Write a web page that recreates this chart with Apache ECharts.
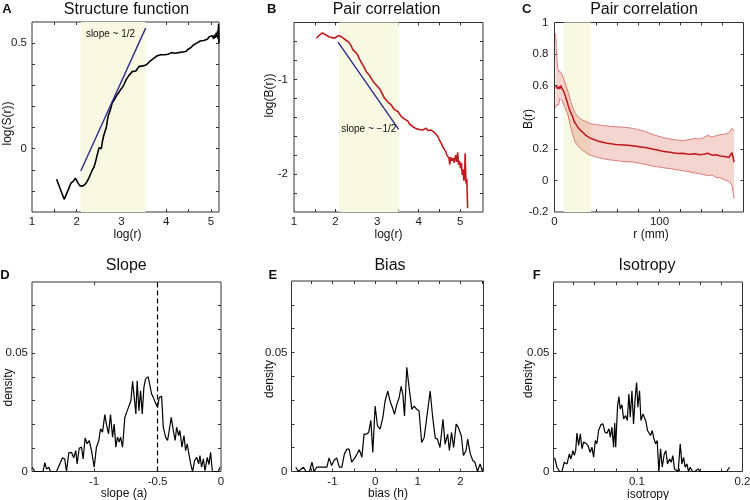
<!DOCTYPE html>
<html><head><meta charset="utf-8">
<script src="https://cdn.jsdelivr.net/npm/echarts@6/dist/echarts.min.js"></script>
<style>html,body{margin:0;padding:0;background:#fff}#c{width:750px;height:500px}</style>
</head><body><div id="c"></div>
<script>
// ---------- Panel A: structure function ----------
const aX = [
1.55,1.63,1.72,1.8,1.87,1.92,1.97,2.02,2.07,2.12,
2.17,2.22,2.27,2.31,2.35,2.38,2.41,2.44,2.47,2.5,
2.53,2.55,2.57,2.6,2.63,2.66,2.69,2.71,2.73,2.76,
2.79,2.82,2.86,2.9,2.94,2.98,3.02,3.06,3.1,3.13,
3.16,3.2,3.24,3.28,3.32,3.36,3.4,3.44,3.48,3.52,
3.56,3.6,3.64,3.68,3.72,3.76,3.8,3.84,3.88,3.92,
3.96,4.0,4.04,4.08,4.12,4.16,4.2,4.24,4.28,4.32,
4.36,4.4,4.44,4.48,4.52,4.56,4.6,4.64,4.68,4.72,
4.76,4.8,4.84,4.88,4.92,4.96,5.0,5.03,5.06,5.08,
5.1,5.12,5.14,5.15,5.16,5.17,5.18];
const aY = [
-0.145,-0.19,-0.24,-0.2,-0.163,-0.155,-0.14,-0.16,-0.175,-0.178,
-0.172,-0.16,-0.14,-0.12,-0.1,-0.09,-0.07,-0.045,-0.02,0.005,
0.01,0.0,0.03,0.06,0.08,0.1,0.14,0.16,0.17,0.19,
0.215,0.225,0.24,0.255,0.265,0.28,0.29,0.305,0.325,0.335,
0.345,0.35,0.365,0.37,0.368,0.38,0.39,0.385,0.392,0.4,
0.398,0.405,0.415,0.42,0.428,0.432,0.44,0.438,0.445,0.448,
0.445,0.452,0.447,0.45,0.455,0.448,0.452,0.449,0.455,0.452,
0.458,0.463,0.46,0.47,0.475,0.48,0.49,0.495,0.5,0.505,
0.51,0.515,0.512,0.52,0.518,0.53,0.522,0.535,0.52,0.54,
0.525,0.55,0.53,0.56,0.52,0.59,0.5];
const aSlopeX = [2.09, 3.54];
const aSlopeY = [-0.106, 0.571];
const bandA = [2.09, 3.54];

// ---------- Panel B: pair correlation (log) ----------
const bX = [
1.54,1.6,1.68,1.76,1.84,1.92,1.98,2.04,2.09,2.14,
2.2,2.26,2.32,2.37,2.42,2.46,2.5,2.54,2.58,2.62,
2.66,2.7,2.74,2.78,2.82,2.86,2.9,2.94,2.98,3.02,
3.06,3.1,3.14,3.18,3.22,3.26,3.3,3.34,3.38,3.42,
3.46,3.5,3.54,3.58,3.62,3.66,3.7,3.74,3.78,3.82,
3.86,3.9,3.94,3.98,4.02,4.06,4.1,4.14,4.18,4.22,
4.26,4.3,4.34,4.38,4.42,4.46,4.5,4.54,4.58,4.62,
4.65,4.68,4.7,4.73,4.75,4.77,4.8,4.83,4.86,4.89,
4.92,4.94,4.96,4.98,5.01,5.03,5.05,5.07,5.09,5.11,
5.12,5.14,5.16,5.18];
const bY = [
-0.565,-0.54,-0.51,-0.53,-0.55,-0.56,-0.565,-0.545,-0.54,-0.55,
-0.57,-0.59,-0.61,-0.64,-0.69,-0.7,-0.72,-0.75,-0.79,-0.82,
-0.85,-0.88,-0.92,-0.94,-0.96,-0.99,-1.02,-1.04,-1.06,-1.08,
-1.1,-1.13,-1.15,-1.2,-1.22,-1.24,-1.26,-1.27,-1.29,-1.32,
-1.31,-1.34,-1.35,-1.39,-1.38,-1.42,-1.43,-1.44,-1.47,-1.48,
-1.5,-1.51,-1.52,-1.51,-1.53,-1.52,-1.535,-1.52,-1.515,-1.54,
-1.52,-1.535,-1.53,-1.56,-1.58,-1.6,-1.64,-1.67,-1.71,-1.73,
-1.76,-1.8,-1.78,-1.83,-1.9,-1.82,-1.86,-1.83,-1.88,-1.8,
-1.87,-1.77,-1.9,-1.86,-1.94,-1.88,-2.01,-1.95,-2.07,-1.98,
-1.78,-2.1,-2.05,-2.36];
const bSlopeX = [2.06, 3.52];
const bSlopeY = [-0.608, -1.528];
const bandB = [2.08, 3.52];

// ---------- Panel C: pair correlation (linear) ----------
const cX = [
1,2,3,4,5,6,7,8,9,10,
11,12,13,14,15,17,19,21,23,25,
27,29,31,33,35,38,41,44,47,50,
54,58,62,66,70,74,78,82,86,90,
94,98,102,106,110,114,118,122,126,130,
134,138,142,146,150,154,158,162,166,169,
170,171];
const cMean = [
0.6,0.59,0.58,0.595,0.58,0.6,0.585,0.575,0.56,0.54,
0.52,0.5,0.475,0.455,0.435,0.41,0.37,0.35,0.33,0.315,
0.305,0.29,0.28,0.272,0.265,0.258,0.25,0.245,0.24,0.236,
0.232,0.228,0.226,0.224,0.222,0.22,0.216,0.212,0.208,0.204,
0.198,0.192,0.186,0.182,0.178,0.174,0.17,0.172,0.168,0.166,
0.169,0.163,0.166,0.172,0.16,0.163,0.155,0.152,0.145,0.175,
0.15,0.115];
const cUpper = [
0.93,0.8,0.71,0.69,0.7,0.685,0.675,0.66,0.64,0.62,
0.6,0.58,0.56,0.535,0.51,0.47,0.435,0.415,0.4,0.39,
0.38,0.375,0.37,0.362,0.358,0.354,0.352,0.35,0.346,0.345,
0.342,0.34,0.338,0.337,0.334,0.33,0.325,0.318,0.31,0.3,
0.29,0.282,0.274,0.268,0.262,0.258,0.255,0.252,0.256,0.26,
0.265,0.262,0.272,0.285,0.275,0.283,0.29,0.293,0.3,0.33,
0.32,0.312];
const cLower = [
0.46,0.48,0.47,0.48,0.52,0.53,0.51,0.49,0.475,0.46,
0.45,0.43,0.41,0.38,0.35,0.3,0.255,0.23,0.215,0.2,
0.19,0.18,0.17,0.163,0.158,0.152,0.146,0.141,0.137,0.133,
0.129,0.126,0.123,0.12,0.118,0.116,0.112,0.108,0.102,0.096,
0.09,0.086,0.082,0.078,0.075,0.07,0.066,0.061,0.058,0.052,
0.046,0.043,0.037,0.03,0.034,0.02,0.016,0.004,-0.006,-0.03,
-0.07,-0.115];
const bandC = [9, 34.5];

// ---------- Panel D: slope histogram ----------
const dX = [
-1.489,-1.468,-1.403,-1.389,-1.376,-1.358,-1.345,-1.297,-1.271,-1.25,
-1.232,-1.218,-1.2,-1.179,-1.161,-1.145,-1.134,-1.118,-1.1,-1.087,
-1.071,-1.055,-1.039,-1.021,-1.0,-0.982,-0.963,-0.95,-0.934,-0.916,
-0.903,-0.887,-0.871,-0.855,-0.842,-0.829,-0.816,-0.803,-0.792,-0.776,
-0.758,-0.739,-0.724,-0.71,-0.697,-0.684,-0.671,-0.661,-0.647,-0.634,
-0.621,-0.608,-0.595,-0.574,-0.561,-0.547,-0.534,-0.513,-0.5,-0.487,
-0.468,-0.455,-0.437,-0.421,-0.408,-0.392,-0.376,-0.361,-0.35,-0.334,
-0.324,-0.308,-0.292,-0.279,-0.266,-0.253,-0.239,-0.224,-0.208,-0.192,
-0.176,-0.166,-0.153,-0.139,-0.126,-0.108,-0.095,-0.082,-0.068,-0.047,
-0.021,-0.008];
const dY = [
0.0018,0,0,0.0037,0.0011,0.0018,0,0,0.0032,0.0058,
0.0053,0,0.0079,0.0081,0.0058,0.0088,0.0032,0.0098,0.0103,0.0053,
0.0142,0.0117,0.0131,0.0088,0.0018,0.0103,0.0131,0.018,0.0166,0.024,
0.02,0.0159,0.024,0.0145,0.02,0.0103,0.0145,0.0124,0.0145,0.0103,
0.0229,0.0257,0.0264,0.0299,0.0381,0.0313,0.0243,0.0383,0.0257,0.0341,
0.0243,0.0355,0.039,0.04,0.0397,0.0327,0.0313,0.0285,0.0271,0.0313,
0.0317,0.0187,0.0145,0.0131,0.0133,0.0229,0.0173,0.0131,0.0187,0.0152,
0.0173,0.0103,0.0152,0.0088,0.0117,0.0074,0.0032,0,0.0046,0.006,
0.0032,0.0067,0.0018,0.0053,0.0004,0.006,0.0029,0.0081,0,0,
0,0.0018];
const slopeRef = -0.5;

// ---------- Panel E: bias histogram ----------
const eX = [
-1.86,-1.8,-1.68,-1.62,-1.54,-1.48,-1.43,-1.37,-1.25,-1.13,
-1.08,-1.02,-0.96,-0.9,-0.84,-0.78,-0.72,-0.66,-0.61,-0.55,
-0.49,-0.43,-0.37,-0.31,-0.26,-0.2,-0.15,-0.1,-0.055,0,
0.055,0.117,0.18,0.234,0.297,0.35,0.406,0.453,0.508,0.563,
0.61,0.65,0.688,0.742,0.797,0.86,0.914,0.977,1.03,1.09,
1.15,1.21,1.29,1.35,1.41,1.46,1.52,1.59,1.64,1.7,
1.74,1.79,1.84,1.9,1.95,2.02,2.07,2.13,2.17,2.23,
2.29,2.34,2.4,2.46,2.52];
const eY = [
0.0018,0,0.0018,0,0,0.0039,0,0.0018,0.0018,0.0018,
0.0057,0.0025,0.0047,0.0057,0.0018,0.0018,0.0074,0.0094,0.0094,0.0039,
0.0053,0.0071,0.0092,0.006,0.0157,0.0157,0.0165,0.0215,0.008,0.0275,
0.0192,0.0178,0.0226,0.0296,0.0338,0.0296,0.0268,0.024,0.0282,0.031,
0.0358,0.0324,0.0233,0.0438,0.0351,0.0261,0.0275,0.0261,0.0254,0.0122,
0.0143,0.0226,0.0338,0.0226,0.014,0.0136,0.0101,0.0219,0.0115,0.0157,
0.0088,0.0164,0.0101,0.0199,0.0185,0.015,0.0067,0.0088,0.0136,0.0074,
0.0046,0.0039,0,0.0032,0];

// ---------- Panel F: isotropy histogram ----------
const fX = [
0.0221,0.0243,0.0268,0.029,0.0312,0.0338,0.036,0.0375,0.0394,0.0407,
0.042,0.0432,0.0448,0.0464,0.048,0.0495,0.0517,0.0536,0.0558,0.0574,
0.059,0.0606,0.0621,0.0637,0.0659,0.0678,0.0697,0.0716,0.0735,0.0748,
0.0763,0.0779,0.079,0.0799,0.0817,0.083,0.0842,0.0858,0.0874,0.0893,
0.0909,0.0924,0.0937,0.0953,0.0968,0.0984,0.0997,0.1009,0.1025,0.1038,
0.1057,0.1072,0.1085,0.1101,0.1114,0.1129,0.1145,0.1161,0.1177,0.1192,
0.1208,0.1224,0.124,0.1259,0.1274,0.129,0.1309,0.1325,0.134,0.1356,
0.1372,0.1391,0.141,0.1426,0.1442,0.1457,0.1473,0.1489,0.1505,0.1527,
0.155,0.158,0.16,0.166,0.185,0.1877];
const fY = [
0.0058,0.0018,0,0,0.0039,0.0032,0.0074,0.0053,0.0088,0.0068,
0.0088,0.0162,0.011,0.0159,0.0096,0.0124,0.0119,0.011,0.0081,0.0103,
0.006,0.0131,0.0117,0.0173,0.0198,0.0201,0.0166,0.0162,0.018,0.0145,
0.0187,0.0103,0.0205,0.0103,0.0278,0.0316,0.0264,0.0282,0.0222,0.0236,
0.0215,0.0327,0.0229,0.0341,0.0201,0.0313,0.0376,0.0271,0.0341,0.0215,
0.0243,0.0243,0.0212,0.0173,0.018,0.0152,0.0173,0.0138,0.0117,0.0131,
0,0.0096,0.0018,0.0074,0.0088,0.0032,0.0053,0.0039,0.0067,0.0011,
0.0018,0,0.0117,0.0032,0.006,0.0018,0.0032,0,0.0018,0,
0,0.0011,0,0,0,0.0018];

// ---------- ticks and labels ----------
const aXTicks = [1.5,2,2.5,3,3.5,4,4.5,5], aXLabels = [1,2,3,4,5];
const aYTicks = [-0.2,-0.1,0,0.1,0.2,0.3,0.4,0.5], aYLabels = [0,0.5];
const bXTicks = [1.5,2,2.5,3,3.5,4,4.5,5], bXLabels = [1,2,3,4,5];
const bYTicks = [-2.2,-2,-1.8,-1.6,-1.4,-1.2,-1,-0.8,-0.6], bYLabels = [-2,-1];
const cXTicks = [20,40,60,80,100,120,140,160], cXLabels = [0,100];
const cYTicks = [0,0.2,0.4,0.6,0.8], cYLabels = [-0.2,0,0.2,0.6,0.8,1];
const dXTicks = [-1,-0.5], dXLabels = [-1,-0.5,0];
const eXTicks = [-1.5,-1,-0.5,0,0.5,1,1.5,2,2.5], eXLabels = [-1,0,1,2];
const fXTicks = [0.04,0.06,0.08,0.1,0.12,0.14,0.16,0.18], fXLabels = [0.1,0.2];
const densTicks = [0.01,0.02,0.03,0.04,0.05,0.06,0.07], densLabels = [0,0.05];

// ---------- build chart ----------
const FONT = "'Liberation Sans', Arial, Helvetica, sans-serif";
const AX = '#333';
function fmt(v){ return String(Math.round(v*10000)/10000); }
function zip(xs, ys){ return xs.map((x,i)=>[x, ys[i]]); }

const grids = [
  {left:32, top:22, width:187, height:190},
  {left:294, top:22.5, width:189, height:189.5},
  {left:554.5, top:22.5, width:189, height:189.5},
  {left:32, top:282, width:189, height:189.5},
  {left:291.5, top:281, width:192, height:190.5},
  {left:553.5, top:282, width:189, height:189.5}
];
const xSpec = [
  [1,5.18,aXTicks,aXLabels],[1,5.55,bXTicks,bXLabels],[0,180,cXTicks,cXLabels],
  [-1.49,0,dXTicks,dXLabels],[-1.96,2.54,eXTicks,eXLabels],[0.021,0.2,fXTicks,fXLabels]
];
const ySpec = [
  [-0.3,0.6,aYTicks,aYLabels,5],[-2.4,-0.4,bYTicks,bYLabels,6],[-0.2,1,cYTicks,cYLabels,6],
  [0,0.08,densTicks,densLabels,4],[0,0.08,densTicks,densLabels,4],[0,0.08,densTicks,densLabels,4]
];
const xAxes = [], yAxes = [];
function tick(vals){ return {show:true, inside:true, length:3, customValues:vals, lineStyle:{color:AX,width:1}}; }
xSpec.forEach((s,i)=>{
  xAxes.push({type:'value', gridIndex:i, min:s[0], max:s[1], position:'bottom',
    axisLine:{show:false,onZero:false}, splitLine:{show:false}, axisTick:tick(s[2]),
    axisLabel:{show:true, customValues:s[3], margin:4, fontSize:11.5, color:'#1a1a1a', fontFamily:FONT, formatter:fmt}});
  xAxes.push({type:'value', gridIndex:i, min:s[0], max:s[1], position:'top',
    axisLine:{show:false,onZero:false}, splitLine:{show:false}, axisTick:tick(s[2]), axisLabel:{show:false}});
});
ySpec.forEach((s,i)=>{
  yAxes.push({type:'value', gridIndex:i, min:s[0], max:s[1], position:'left',
    axisLine:{show:false,onZero:false}, splitLine:{show:false}, axisTick:tick(s[2]),
    axisLabel:{show:true, customValues:s[3], margin:s[4], fontSize:11.5, color:'#1a1a1a', fontFamily:FONT, formatter:fmt}});
  yAxes.push({type:'value', gridIndex:i, min:s[0], max:s[1], position:'right',
    axisLine:{show:false,onZero:false}, splitLine:{show:false}, axisTick:tick(s[2]), axisLabel:{show:false}});
});

const BAND = '#f8f9e3';
function band(r){ return {silent:true, itemStyle:{color:BAND}, data:[[{xAxis:r[0]},{xAxis:r[1]}]]}; }
function line(i, data, color, width, extra){
  return Object.assign({type:'line', xAxisIndex:2*i, yAxisIndex:2*i, data:data, showSymbol:false, symbol:'none',
    silent:true, lineStyle:{color:color, width:width}, z:3}, extra||{});
}

const series = [
  line(0, zip(aX,aY), '#000', 1.6, {markArea: band(bandA)}),
  line(0, zip(aSlopeX,aSlopeY), '#2b2e8c', 1.4, {z:4}),
  line(1, zip(bX,bY), '#c01a1f', 1.6, {markArea: band(bandB)}),
  line(1, zip(bSlopeX,bSlopeY), '#2b2e8c', 1.4, {z:4}),
  {type:'custom', xAxisIndex:4, yAxisIndex:4, silent:true, z:2,
   data:[[cX[0], cUpper[0]]],
   markArea: band(bandC),
   renderItem:function(params, api){
     if (params.dataIndex !== 0) return null;
     const pts = [];
     for (let i=0;i<cX.length;i++) pts.push(api.coord([cX[i], cUpper[i]]));
     for (let i=cX.length-1;i>=0;i--) pts.push(api.coord([cX[i], cLower[i]]));
     return {type:'polygon', shape:{points:pts}, style:{fill:'rgba(214,96,76,0.27)'}};
   }},
  line(2, zip(cX,cUpper), '#dd7b7b', 1),
  line(2, zip(cX,cLower), '#dd7b7b', 1),
  line(2, zip(cX,cMean), '#c0141c', 1.5, {z:4}),
  line(3, zip(dX,dY), '#000', 1.2, {markLine:{silent:true, symbol:['none','none'], label:{show:false},
      lineStyle:{color:'#000', width:1.2, type:[5,3]}, data:[{xAxis:slopeRef}]}}),
  line(4, zip(eX,eY), '#000', 1.2),
  line(5, zip(fX,fY), '#000', 1.2)
];

function txt(t, x, y, size, opts){
  opts = opts || {};
  return {type:'text', x:x, y:y, rotation:opts.rot||0, silent:true, z:10,
    style:{text:t, fill:'#111', fontSize:size, fontFamily:FONT, fontWeight:opts.bold?'bold':'normal',
      align:'center', verticalAlign:'middle', textAlign:'center', textVerticalAlign:'middle'}};
}
const R = Math.PI/2;
const graphics = [
  txt('Structure function',126.5,10,16), txt('Pair correlation',386.5,10,16), txt('Pair correlation',644,10,16),
  txt('Slope',126.3,266,16), txt('Bias',390,266,16), txt('Isotropy',647,266,16),
  txt('A',7,9,13,{bold:true}), txt('B',271.7,9,13,{bold:true}), txt('C',526.7,9,13,{bold:true}),
  txt('D',5,275.5,13,{bold:true}), txt('E',272.8,275.5,13,{bold:true}), txt('F',536.7,275.5,13,{bold:true}),
  txt('log(r)',127.5,234.5,12), txt('log(r)',388.5,234.5,12), txt('r (mm)',651,234.5,12),
  txt('slope (a)',124,494,12), txt('bias (h)',388,494,12), txt('isotropy',648,494.5,12),
  txt('log(S(r))',7.5,123.5,12,{rot:R}), txt('log(B(r))',269.2,95.5,12,{rot:R}), txt('B(r)',528.2,119,12,{rot:R}),
  txt('density',8.3,387.5,12,{rot:R}), txt('density',269.5,379,12,{rot:R}), txt('density',528.7,379,12,{rot:R}),
  txt('slope ~ 1/2',110.5,34.5,10), txt('slope ~ \u22121/2',368.8,129.3,10)
];

const chart = echarts.init(document.getElementById('c'), null, {renderer:'canvas'});
chart.setOption({
  animation:false,
  backgroundColor:'#fff',
  textStyle:{fontFamily:FONT},
  grid: grids.map(g=>Object.assign({show:true, borderColor:AX, borderWidth:1, backgroundColor:'rgba(0,0,0,0)',
    containLabel:false, outerBoundsMode:'none'}, g)),
  xAxis: xAxes,
  yAxis: yAxes,
  series: series,
  graphic: graphics
});
</script></body></html>
